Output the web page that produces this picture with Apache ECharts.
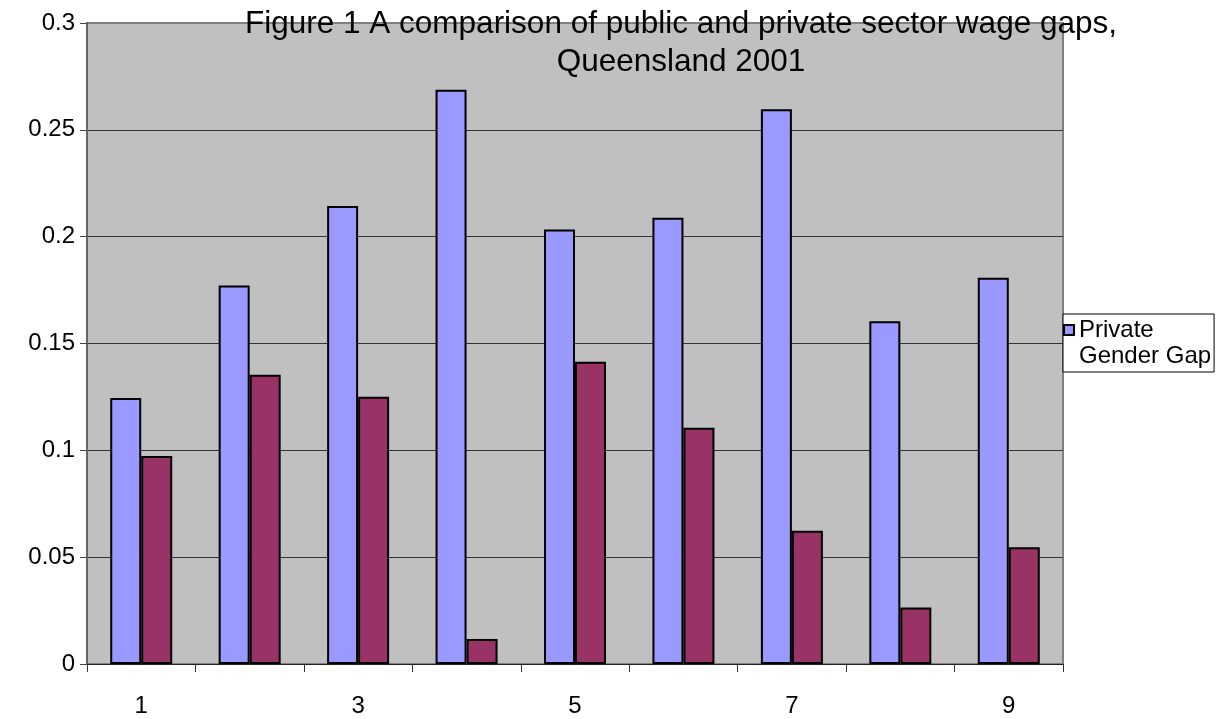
<!DOCTYPE html>
<html>
<head>
<meta charset="utf-8">
<script src="https://cdn.jsdelivr.net/npm/echarts@6/dist/echarts.min.js"></script>
<style>
html,body{margin:0;padding:0;background:#fff;}
#chart{width:1226px;height:719px;}
</style>
</head>
<body>
<div id="chart"></div>
<script>
const titleText = 'Figure 1 A comparison of public and private sector wage gaps,\nQueensland 2001';
const categories = ['1','2','3','4','5','6','7','8','9'];
const privateGap = [0.1245, 0.1772, 0.2143, 0.2688, 0.2034, 0.2089, 0.2596, 0.1604, 0.1808];
const publicGap = [0.0973, 0.1354, 0.1251, 0.0117, 0.1415, 0.1106, 0.0624, 0.0264, 0.0546];
const seriesNames = ['Private Gender Gap', 'Public Gender Gap'];
const legendNames = ['Private Gender Gap'];

const FONT = '"Liberation Sans", Arial, sans-serif';
const chart = echarts.init(document.getElementById('chart'), null, {renderer: 'canvas'});

chart.setOption({
  animation: false,
  backgroundColor: '#ffffff',
  title: {
    text: titleText,
    left: 681,
    top: 5,
    padding: 0,
    textAlign: 'center',
    textStyle: {fontFamily: FONT, fontSize: 31.5, fontWeight: 'normal', color: '#000', lineHeight: 38}
  },
  legend: {
    data: legendNames,
    left: 1063,
    top: 314,
    orient: 'vertical',
    padding: [3, 3, 3, 0],
    backgroundColor: '#ffffff',
    borderColor: '#000000',
    borderWidth: 1,
    borderRadius: 0,
    itemWidth: 10,
    itemHeight: 36,
    itemGap: 0,
    icon: 'path://M0,0L10,0L10,10L0,10Z M0,36L0,36',
    formatter: function (name) { return name.replace(' ', '\n'); },
    textStyle: {fontFamily: FONT, fontSize: 24, color: '#000', lineHeight: 26}
  },
  grid: {
    left: 87, right: 163, top: 23, bottom: 55,
    show: true,
    backgroundColor: '#c0c0c0',
    borderColor: '#808080',
    borderWidth: 2,
    containLabel: false
  },
  xAxis: {
    type: 'category',
    data: categories,
    boundaryGap: true,
    axisLine: {show: true, lineStyle: {color: '#222', width: 1}},
    axisTick: {show: true, interval: 0, length: 8, lineStyle: {color: '#333'}},
    axisLabel: {interval: 1, margin: 30, fontFamily: FONT, fontSize: 24, color: '#000'},
    splitLine: {show: false}
  },
  yAxis: {
    type: 'value',
    min: 0, max: 0.3, interval: 0.05,
    axisLine: {show: true, lineStyle: {color: '#666', width: 2}},
    axisTick: {show: true, length: 7, lineStyle: {color: '#444'}},
    axisLabel: {margin: 12, fontFamily: FONT, fontSize: 24, color: '#000'},
    splitLine: {show: true, showMaxLine: false, showMinLine: false, lineStyle: {color: '#333', width: 1}}
  },
  series: [
    {
      name: seriesNames[0],
      type: 'bar',
      data: privateGap,
      barWidth: 31,
      barGap: '0%',
      itemStyle: {color: '#9999ff', borderColor: '#000', borderWidth: 2}
    },
    {
      name: seriesNames[1],
      type: 'bar',
      data: publicGap,
      barWidth: 31,
      barGap: '0%',
      itemStyle: {color: '#993366', borderColor: '#000', borderWidth: 2}
    }
  ]
});
</script>
</body>
</html>
